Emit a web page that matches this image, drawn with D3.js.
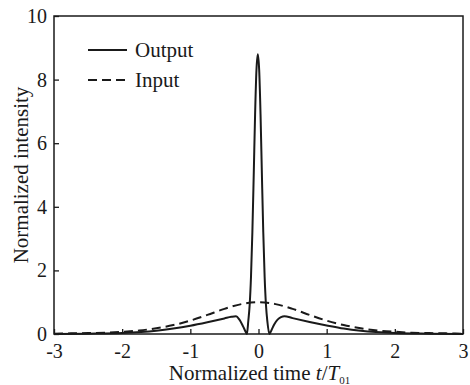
<!DOCTYPE html>
<html>
<head>
<meta charset="utf-8">
<script src="https://cdn.jsdelivr.net/npm/d3@7"></script>
<style>
	body { margin: 0; background: #fff; }
</style>
</head>
<body>
<div id="chart"></div>
<script>
// values
var xTicks = [-3, -2, -1, 0, 1, 2, 3];
var yTicks = [0, 2, 4, 6, 8, 10];

var inputTime = [-3, -2.75, -2.5, -2.25, -2, -1.75, -1.5, -1.25, -1, -0.75, -0.5, -0.25, 0,
	0.25, 0.5, 0.75, 1, 1.25, 1.5, 1.75, 2, 2.25, 2.5, 2.75, 3];
var inputValue = [0.01, 0.02, 0.03, 0.04, 0.07, 0.11, 0.18, 0.28, 0.42, 0.6, 0.79, 0.94, 1.0,
	0.94, 0.79, 0.6, 0.42, 0.28, 0.18, 0.11, 0.07, 0.04, 0.03, 0.02, 0.01];

var outputTime = [-3, -2.5, -2, -1.5, -1.25, -1, -0.75, -0.5, -0.4, -0.33, -0.28, -0.24, -0.2, -0.17,
	-0.15, -0.13, -0.11, -0.09, -0.07, -0.05, -0.03, -0.01, 0.01, 0.03, 0.05, 0.07, 0.09, 0.11, 0.13,
	0.16, 0.19, 0.23, 0.28, 0.33, 0.38, 0.5, 0.75, 1, 1.25, 1.5, 2, 2.5, 3];
var outputValue = [0.0, 0.01, 0.03, 0.1, 0.17, 0.26, 0.37, 0.49, 0.54, 0.56, 0.45, 0.3, 0.12, 0.0,
	0.4, 0.9, 1.8, 3.2, 5.0, 6.9, 8.3, 8.8, 8.3, 6.9, 5.0, 3.2, 1.8, 0.9, 0.4,
	0.0, 0.12, 0.3, 0.45, 0.53, 0.56, 0.5, 0.38, 0.27, 0.17, 0.1, 0.03, 0.01, 0.0];

var width = 470, height = 385;
var margin = {top: 16, right: 7, bottom: 51, left: 54};
var ink = "#1a1a1a";
var serif = "'Liberation Serif', 'DejaVu Serif', serif";

var svg = d3.select("#chart").append("svg")
	.attr("width", width)
	.attr("height", height)
	.attr("font-family", serif);

var x = d3.scaleLinear().domain([-3, 3]).range([margin.left, width - margin.right]);
var y = d3.scaleLinear().domain([0, 10]).range([height - margin.bottom, margin.top]);

// ticks point inward, labels use a plain hyphen like the source
function styleAxis(g) {
	g.attr("font-family", serif).attr("font-size", 20);
	g.select(".domain").remove();
	g.selectAll("line").attr("stroke", ink).attr("stroke-width", 1.3);
	g.selectAll("text").attr("fill", ink);
}

svg.append("g")
	.attr("transform", "translate(0," + (height - margin.bottom) + ")")
	.call(d3.axisBottom(x).tickValues(xTicks).tickSize(-5).tickPadding(10).tickFormat(function(d) { return String(d); }))
	.call(styleAxis);

svg.append("g")
	.attr("transform", "translate(" + margin.left + ",0)")
	.call(d3.axisLeft(y).tickValues(yTicks).tickSize(-5).tickPadding(7).tickFormat(function(d) { return String(d); }))
	.call(styleAxis);

var line = d3.line()
	.x(function(d) { return x(d[0]); })
	.y(function(d) { return y(d[1]); })
	.curve(d3.curveMonotoneX);

svg.append("path")
	.datum(d3.zip(inputTime, inputValue))
	.attr("d", line)
	.attr("fill", "none")
	.attr("stroke", ink)
	.attr("stroke-width", 2)
	.attr("stroke-dasharray", "9,5");

svg.append("path")
	.datum(d3.zip(outputTime, outputValue))
	.attr("d", line)
	.attr("fill", "none")
	.attr("stroke", ink)
	.attr("stroke-width", 2);

// frame
svg.append("rect")
	.attr("x", margin.left)
	.attr("y", margin.top)
	.attr("width", width - margin.left - margin.right)
	.attr("height", height - margin.top - margin.bottom)
	.attr("fill", "none")
	.attr("stroke", ink)
	.attr("stroke-width", 1.5);

// legend
var legend = [{name: "Output", dash: null}, {name: "Input", dash: "9,5"}];
legend.forEach(function(d, i) {
	var ly = 50 + i * 30;
	svg.append("line")
		.attr("x1", 88).attr("x2", 127)
		.attr("y1", ly).attr("y2", ly)
		.attr("stroke", ink)
		.attr("stroke-width", 2)
		.attr("stroke-dasharray", d.dash);
	svg.append("text")
		.attr("x", 135)
		.attr("y", ly + 7)
		.attr("font-size", 21)
		.attr("fill", ink)
		.text(d.name);
});

// axis titles
var xt = svg.append("text")
	.attr("x", (margin.left + width - margin.right) / 2 + 1)
	.attr("y", 380)
	.attr("text-anchor", "middle")
	.attr("font-size", 21)
	.attr("fill", ink);
xt.append("tspan").text("Normalized time ");
xt.append("tspan").attr("font-style", "italic").text("t");
xt.append("tspan").text("/");
xt.append("tspan").attr("font-style", "italic").text("T");
xt.append("tspan").attr("font-size", 11).attr("dy", 4).text("01");

svg.append("text")
	.attr("transform", "translate(28," + ((margin.top + height - margin.bottom) / 2) + ") rotate(-90)")
	.attr("text-anchor", "middle")
	.attr("font-size", 21)
	.attr("fill", ink)
	.text("Normalized intensity");
</script>
</body>
</html>
